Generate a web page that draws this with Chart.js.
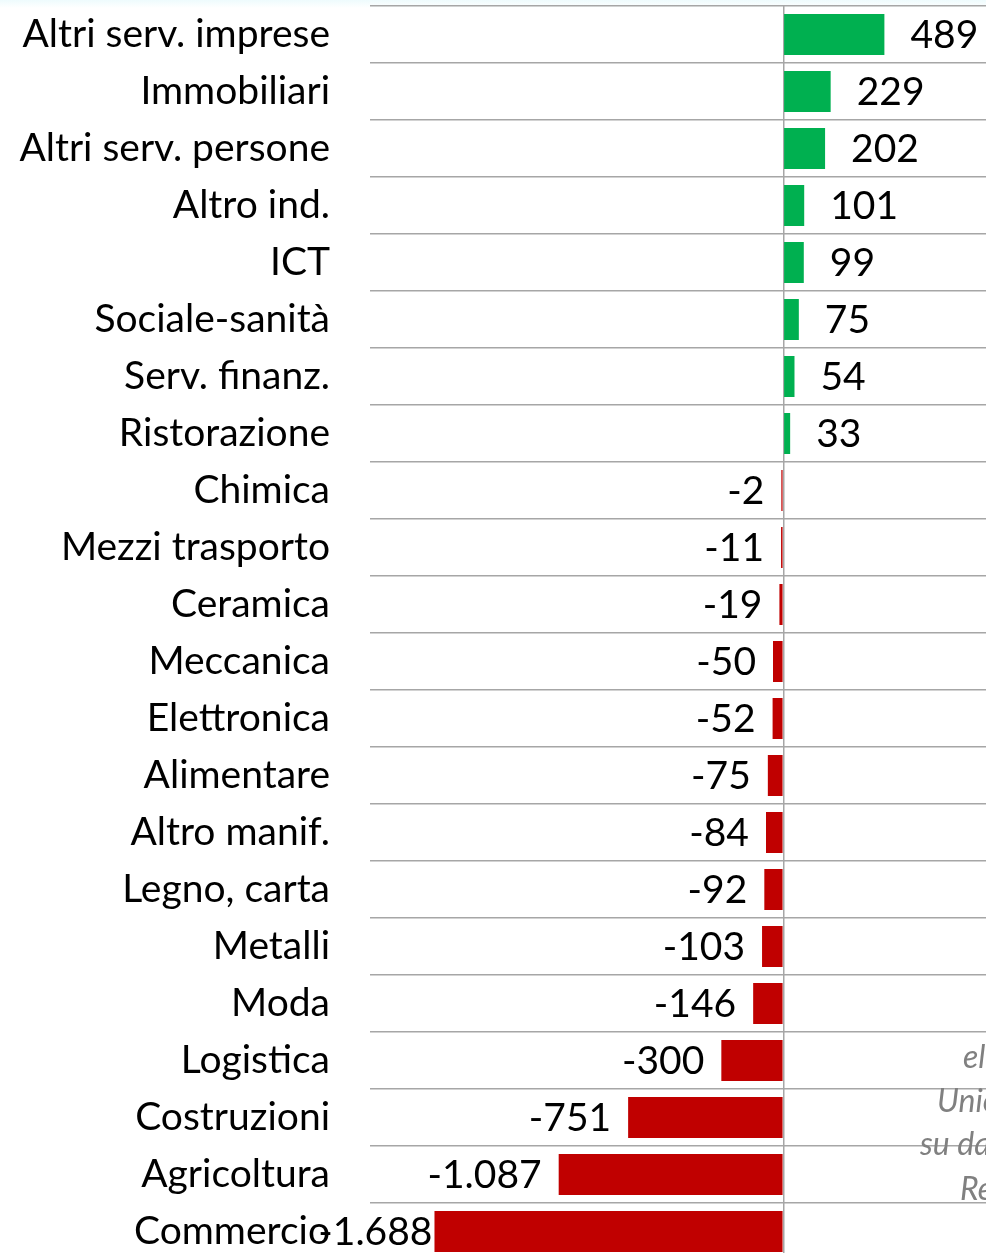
<!DOCTYPE html>
<html>
<head>
<meta charset="utf-8">
<script src="https://cdn.jsdelivr.net/npm/chart.js@4.4.1/dist/chart.umd.min.js"></script>
<style>
  html, body { margin: 0; padding: 0; overflow: hidden; background: #fff; }
  body { width: 986px; height: 1253px; position: relative;
         background: linear-gradient(#eefbfd 0px, #ffffff 8px); }
  #wrap { position: absolute; left: 0; top: 0; width: 990px; height: 1260px; }
  .src { position: absolute; font-family: Lato, sans-serif; font-style: italic;
         font-size: 32px; color: #808080; white-space: nowrap; line-height: 1; }
</style>
</head>
<body>
<div id="wrap"><canvas id="myChart" width="990" height="1260"></canvas></div>
<div class="src" style="left:963px; top:1040px;">elaborazione</div>
<div class="src" style="left:937px; top:1084px;">Unioncamere</div>
<div class="src" style="left:920px; top:1127px;">su dati</div>
<div class="src" style="left:960px; top:1172px;">Registro</div>
<script>
const ctx = document.getElementById('myChart');

const sectors = ['Altri serv. imprese', 'Immobiliari', 'Altri serv. persone', 'Altro ind.', 'ICT',
  'Sociale-sanità', 'Serv. finanz.', 'Ristorazione', 'Chimica', 'Mezzi trasporto', 'Ceramica',
  'Meccanica', 'Elettronica', 'Alimentare', 'Altro manif.', 'Legno, carta', 'Metalli', 'Moda',
  'Logistica', 'Costruzioni', 'Agricoltura', 'Commercio'];
const saldo = [489, 229, 202, 101, 99, 75, 54, 33, -2, -11, -19, -50, -52, -75, -84, -92, -103,
  -146, -300, -751, -1087, -1688];

const fontName = 'Lato, "Open Sans", sans-serif';
const fontSize = 39;

function fmt(v) {
  let s = Math.abs(v).toString().replace(/\B(?=(\d{3})+(?!\d))/g, '.');
  return (v < 0 ? '-' : '') + s;
}

// etichette valore fuori dalla barra
const valueLabels = {
  id: 'valueLabels',
  afterDatasetsDraw(chart) {
    const c = chart.ctx;
    const meta = chart.getDatasetMeta(0);
    c.save();
    c.font = fontSize + 'px ' + fontName;
    c.fillStyle = '#000';
    c.textBaseline = 'middle';
    meta.data.forEach((bar, i) => {
      const v = saldo[i];
      const txt = fmt(v);
      if (v >= 0) {
        c.textAlign = 'left';
        c.fillText(txt, bar.x + 26, bar.y + 1);
      } else {
        c.textAlign = 'right';
        let x = bar.x - 17;
        const w = c.measureText(txt).width;
        if (x - w < 338) x = bar.x - 2;
        c.fillText(txt, x, bar.y + 1);
      }
    });
    c.restore();
  }
};

new Chart(ctx, {
  type: 'bar',
  data: {
    labels: sectors,
    datasets: [{
      data: saldo,
      backgroundColor: saldo.map(v => v >= 0 ? '#00b050' : '#c00000'),
      barPercentage: 0.72,
      categoryPercentage: 1,
      minBarLength: 2
    }]
  },
  options: {
    indexAxis: 'y',
    responsive: false,
    animation: false,
    layout: { padding: { top: 6, right: 0, bottom: 0, left: 0 } },
    plugins: { legend: { display: false }, tooltip: { enabled: false } },
    scales: {
      x: {
        min: -2000,
        max: 1000,
        afterFit: scale => { scale.height = 0; scale.paddingLeft = 0; scale.paddingRight = 0; },
        ticks: { display: false, stepSize: 500 },
        border: { display: false },
        grid: {
          drawTicks: false,
          lineWidth: 1.5,
          color: c => c.tick && c.tick.value === 0 ? '#a6a6a6' : 'rgba(0,0,0,0)'
        }
      },
      y: {
        afterFit: scale => { scale.width = 370; scale.paddingTop = 0; scale.paddingBottom = 0; },
        border: { display: false },
        grid: { offset: true, drawTicks: false, color: '#a6a6a6', lineWidth: 1.5 },
        ticks: { padding: 40, color: '#000', font: { family: fontName, size: fontSize } }
      }
    }
  },
  plugins: [valueLabels]
});
</script>
</body>
</html>
